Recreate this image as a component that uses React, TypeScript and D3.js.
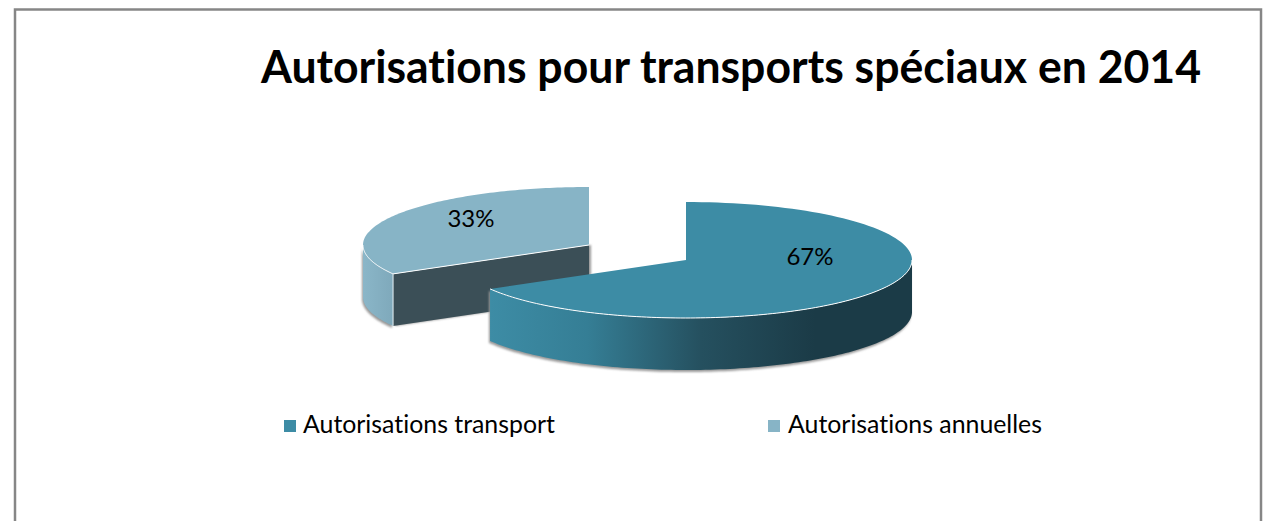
import React from "react";
import * as d3 from "d3";

const titleText = "Autorisations pour transports spéciaux en 2014";
const categories = ["Autorisations transport", "Autorisations annuelles"];
const values = [66.7, 33.3];
const labels = ["67%", "33%"];
const colors = ["#3d8ca5", "#87b4c6"];
const sideStart = ["#3d8ca5", "#8ab6c8"];
const sideEnd = ["#1b3b47", "#7fa9bb"];
const cutFaces = ["#1b3b47", "#3b4f57"];
const centers: [number, number][] = [[686, 260], [589, 245]];
const labelPos: [number, number][] = [[810, 265], [471, 227]];
const legendSquares = [284, 768];
const legendText = [303, 788];

const RX = 226;
const RY = 58;
const DEPTH = 52;

const FONT = "Lato, Carlito, 'Open Sans', sans-serif";

const pieAngles = d3.pie<number>().sort(null)(values);

function pt(c: [number, number], a: number, dy = 0): [number, number] {
  return [c[0] + RX * Math.sin(a), c[1] - RY * Math.cos(a) + dy];
}

const line = d3.line<[number, number]>();

function samples(a0: number, a1: number, n = 120): number[] {
  return d3.range(n + 1).map((i) => a0 + ((a1 - a0) * i) / n);
}

function topPath(i: number) {
  const c = centers[i];
  const p = pieAngles[i];
  const arc = samples(p.startAngle, p.endAngle).map((a) => pt(c, a));
  return line([c, ...arc])! + "Z";
}

// visible wall = the part of the rim on the front half of the ellipse
function wallPath(i: number) {
  const c = centers[i];
  const p = pieAngles[i];
  const a0 = Math.max(p.startAngle, Math.PI / 2);
  const a1 = Math.min(p.endAngle, (3 * Math.PI) / 2);
  const s = samples(a0, a1);
  const up = s.map((a) => pt(c, a));
  const down = s.slice().reverse().map((a) => pt(c, a, DEPTH));
  return line([...up, ...down])! + "Z";
}

function rimLine(i: number) {
  const c = centers[i];
  const p = pieAngles[i];
  const a0 = Math.max(p.startAngle, Math.PI / 2);
  const a1 = Math.min(p.endAngle, (3 * Math.PI) / 2);
  return line(samples(a0, a1).map((a) => pt(c, a)))!;
}

function cutPath(i: number, angle: number) {
  const c = centers[i];
  const e = pt(c, angle);
  return line([c, e, [e[0], e[1] + DEPTH], [c[0], c[1] + DEPTH]])! + "Z";
}

export default function App() {
  const split = pieAngles[1].startAngle;
  const shadowOf = (i: number) => (
    <g filter="url(#soft)" transform="translate(-1,2)" fill="#999">
      <path d={wallPath(i)} />
      {i === 1 ? <path d={cutPath(1, split)} transform="translate(3,-2)" /> : null}
    </g>
  );
  const noLig = { fontVariantLigatures: "none" } as React.CSSProperties;
  return (
    <svg
      width={1263}
      height={521}
      style={{ position: "absolute", left: 0, top: 0, display: "block" }}
      xmlns="http://www.w3.org/2000/svg"
    >
      <defs>
        <filter id="soft" x="-10%" y="-10%" width="120%" height="130%">
          <feGaussianBlur stdDeviation="1.3" />
        </filter>
        <linearGradient id="wall0" gradientUnits="userSpaceOnUse" x1={490} x2={815} y1={0} y2={0}>
          <stop offset="0" stopColor={sideStart[0]} />
          <stop offset="0.3" stopColor="#357e95" />
          <stop offset="0.65" stopColor="#25505f" />
          <stop offset="1" stopColor={sideEnd[0]} />
        </linearGradient>
        <linearGradient id="wall1" gradientUnits="userSpaceOnUse" x1={363} x2={393} y1={0} y2={0}>
          <stop offset="0" stopColor={sideStart[1]} />
          <stop offset="1" stopColor={sideEnd[1]} />
        </linearGradient>
      </defs>
      <rect width={1263} height={521} fill="#fff" />
      <rect x={15} y={9.5} width={1246} height={540} fill="#fff" stroke="#868686" strokeWidth={2.5} />

      <text x={261} y={83} fontFamily={FONT} fontWeight={700} fontSize={45} fill="#000" style={noLig} textLength={940} lengthAdjust="spacingAndGlyphs">
        {titleText}
      </text>

      {shadowOf(1)}
      <path d={cutPath(1, split)} fill={cutFaces[1]} />
      <path d={wallPath(1)} fill="url(#wall1)" />
      <path d={topPath(1)} fill={colors[1]} />
      <path d={rimLine(1)} fill="none" stroke="#fff" strokeWidth={1} />
      <path d={line([centers[1], pt(centers[1], split)])!} fill="none" stroke="#fff" strokeWidth={1} />
      <path d={line([pt(centers[1], split), pt(centers[1], split, DEPTH)])!} fill="none" stroke="#e4eef2" strokeWidth={1} />

      {shadowOf(0)}
      <path d={wallPath(0)} fill="url(#wall0)" />
      <path d={topPath(0)} fill={colors[0]} />
      <path d={rimLine(0)} fill="none" stroke="#fff" strokeWidth={1} />

      {labels.map((l, i) => (
        <text key={l} x={labelPos[i][0]} y={labelPos[i][1]} textAnchor="middle" fontFamily={FONT} fontSize={24} fill="#000" style={noLig}>
          {l}
        </text>
      ))}

      {categories.map((c, i) => (
        <g key={c}>
          <rect x={legendSquares[i]} y={420} width={12} height={12} fill={colors[i]} />
          <text x={legendText[i]} y={433} fontFamily={FONT} fontSize={24.5} fill="#000" style={noLig} textLength={i === 0 ? 252 : 254} lengthAdjust="spacingAndGlyphs">
            {c}
          </text>
        </g>
      ))}
    </svg>
  );
}
